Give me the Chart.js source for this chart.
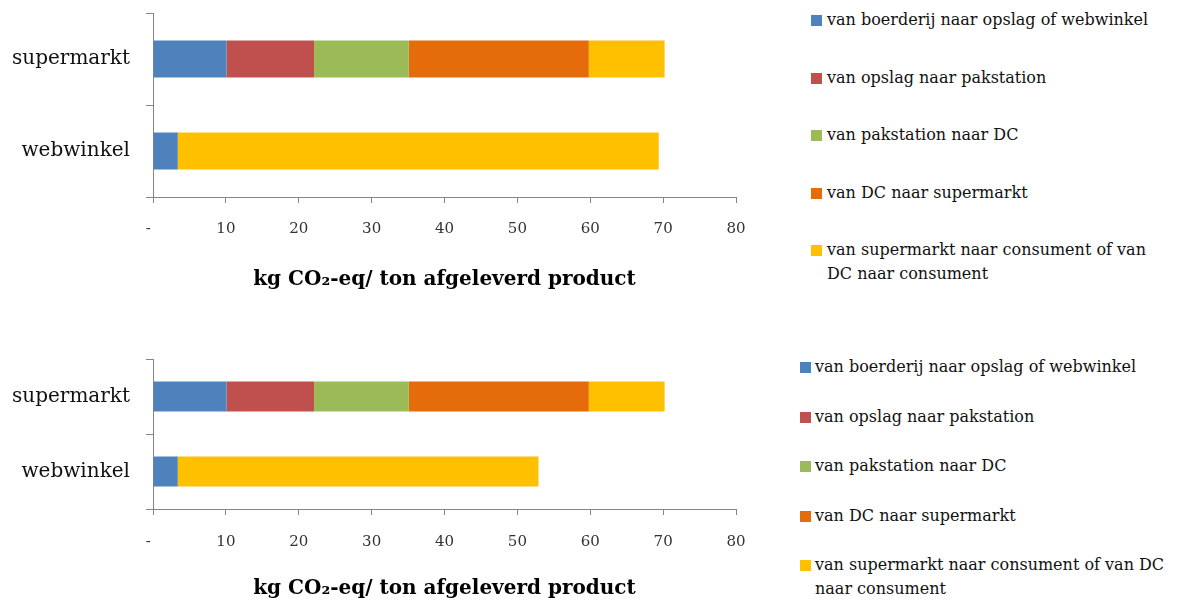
<!DOCTYPE html>
<html>
<head>
<meta charset="utf-8">
<script src="https://cdn.jsdelivr.net/npm/chart.js@4/dist/chart.umd.min.js"></script>
<style>
  html, body { margin: 0; padding: 0; background: #fff; }
  #page { position: relative; width: 1184px; height: 603px; overflow: hidden; }
  canvas { position: absolute; left: 0; }
  #chartTop { top: 0; }
  #chartBottom { top: 300px; }
  .legend { position: absolute; font-family: 'DejaVu Serif', serif; font-size: 16px; color: #111; line-height: 24px; }
  .legend .item { position: absolute; left: 0; }
  .legend .swatch { position: absolute; top: 7px; width: 11px; height: 11px; }
</style>
</head>
<body>
<div id="page">
  <canvas id="chartTop" width="760" height="300"></canvas>
  <canvas id="chartBottom" width="760" height="303"></canvas>
  <div id="legendTop" class="legend"></div>
  <div id="legendBottom" class="legend"></div>
</div>
<script>
// Categories (y axis)
const categories = ['supermarkt', 'webwinkel'];

// Transport legs (stack order left to right)
const legLabels = [
  'van boerderij naar opslag of webwinkel',
  'van opslag naar pakstation',
  'van pakstation naar DC',
  'van DC naar supermarkt',
  'van supermarkt naar consument of van DC naar consument'
];
const legColors = ['#4F81BD', '#C0504D', '#9BBB59', '#E46C0A', '#FFC000'];

// kg CO2-eq per ton delivered product, per leg: [supermarkt, webwinkel]
const boerderijNaarOpslag = [10.1, 3.4];
const opslagNaarPakstation = [12.0, 0];
const pakstationNaarDC = [13.0, 0];
const dcNaarSupermarkt = [24.7, 0];
const naarConsumentBoven = [10.4, 66.0];
const naarConsumentOnder = [10.4, 49.5];

// x axis ticks
const xTicks = [0, 10, 20, 30, 40, 50, 60, 70, 80];
const xTickLabels = ['-  ', '10', '20', '30', '40', '50', '60', '70', '80'];

const axisTitle = 'kg CO\u2082-eq/ ton afgeleverd product';
const serif = "'DejaVu Serif', serif";
const axisGrey = '#868686';

function makeChart(canvasId, seriesValues, g) {
  const datasets = seriesValues.map((vals, i) => ({
    label: legLabels[i],
    data: vals,
    backgroundColor: legColors[i],
    borderWidth: 0,
    barPercentage: 0.5,
    categoryPercentage: 0.8
  }));
  return new Chart(document.getElementById(canvasId), {
    type: 'bar',
    data: { labels: categories, datasets },
    options: {
      indexAxis: 'y',
      responsive: false,
      animation: false,
      layout: { padding: { top: g.top, left: 0, right: 24, bottom: 0 } },
      plugins: { legend: { display: false }, tooltip: { enabled: false } },
      scales: {
        x: {
          stacked: true,
          min: 0,
          max: 80,
          afterBuildTicks: s => { s.ticks = xTicks.map(v => ({ value: v })); },
          ticks: {
            autoSkip: false,
            maxRotation: 0,
            padding: g.tickPad,
            color: '#333',
            font: { family: serif, size: 15 },
            callback: (v, i) => xTickLabels[i]
          },
          grid: { drawOnChartArea: false, drawTicks: true, tickLength: 6, color: axisGrey },
          border: { display: true, color: axisGrey, width: 1 },
          title: {
            display: true,
            text: axisTitle,
            color: '#000',
            font: { family: serif, size: 20, weight: 'bold' },
            padding: { top: 0, bottom: g.titlePad }
          },
          afterFit: s => { s.height = g.xHeight; s.paddingLeft = 0; s.paddingRight = 0; }
        },
        y: {
          stacked: true,
          ticks: { padding: 16, color: '#111', font: { family: serif, size: 20 } },
          grid: { drawOnChartArea: false, drawTicks: true, tickLength: 7, color: axisGrey, offset: true },
          border: { display: true, color: axisGrey, width: 1 },
          afterFit: s => { s.width = 153; s.paddingTop = 0; s.paddingBottom = 0; }
        }
      }
    }
  });
}

function makeLegend(elId, chart, g) {
  const el = document.getElementById(elId);
  el.style.left = g.left + 'px';
  el.style.top = g.top + 'px';
  chart.data.datasets.forEach((ds, i) => {
    const item = document.createElement('div');
    item.className = 'item';
    item.style.top = (i * g.step) + 'px';
    item.style.width = g.width + 'px';
    item.style.paddingLeft = g.textOffset + 'px';
    const sw = document.createElement('span');
    sw.className = 'swatch';
    sw.style.left = '0px';
    sw.style.background = ds.backgroundColor;
    item.appendChild(sw);
    item.appendChild(document.createTextNode(ds.label));
    el.appendChild(item);
  });
}

const chartBoven = makeChart('chartTop',
  [boerderijNaarOpslag, opslagNaarPakstation, pakstationNaarDC, dcNaarSupermarkt, naarConsumentBoven],
  { top: 13, xHeight: 103, tickPad: 17, titlePad: 8 });
const chartOnder = makeChart('chartBottom',
  [boerderijNaarOpslag, opslagNaarPakstation, pakstationNaarDC, dcNaarSupermarkt, naarConsumentOnder],
  { top: 59, xHeight: 94, tickPad: 18, titlePad: 2 });

makeLegend('legendTop', chartBoven, { left: 811, top: 8, step: 57.5, width: 335, textOffset: 16 });
makeLegend('legendBottom', chartOnder, { left: 800, top: 355, step: 49.5, width: 369, textOffset: 15 });
</script>
</body>
</html>
